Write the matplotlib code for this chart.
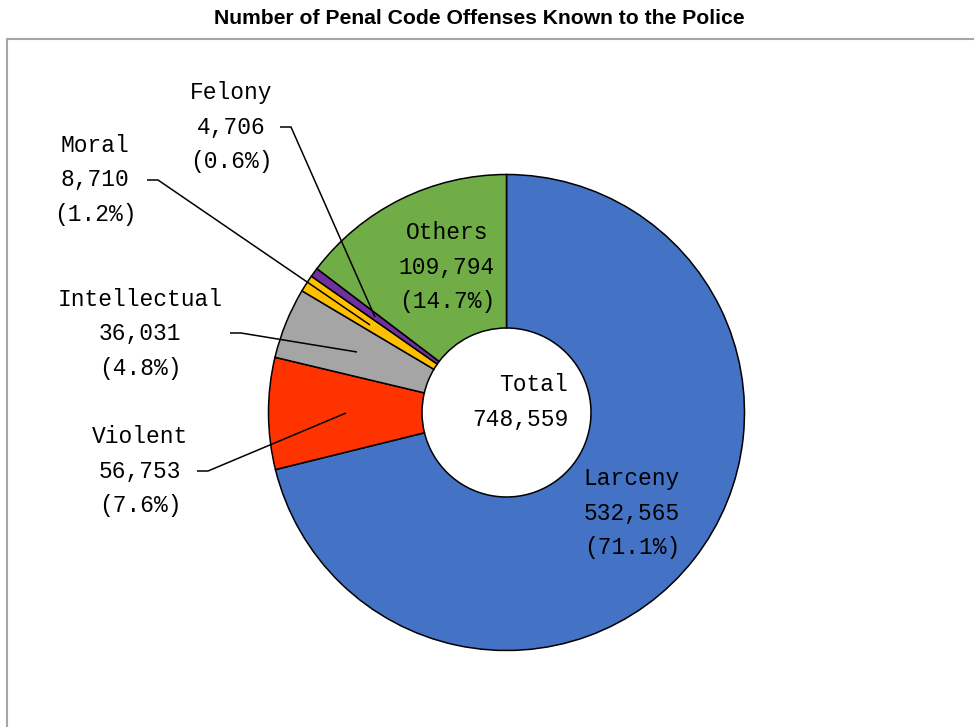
"""Donut chart: penal code offenses known to the police."""
import matplotlib
matplotlib.use("Agg")
import matplotlib.pyplot as plt
from matplotlib.patches import Rectangle

# data
categories = ["Larceny", "Violent", "Intellectual", "Moral", "Felony", "Others"]
counts = [532565, 56753, 36031, 8710, 4706, 109794]
colors = ["#4472C4", "#FF3300", "#A5A5A5", "#FFC000", "#7030A0", "#70AD47"]
total = sum(counts)

W, H = 974, 727
label_font = "Liberation Mono"


def py(y):
    # pixel row (from top) -> data y
    return H - y


fig = plt.figure(figsize=(W / 100, H / 100), dpi=100)
ax = fig.add_axes([0, 0, 1, 1])

# plot area frame
ax.add_patch(Rectangle((6.5, py(38.5) - 800), 1000, 800, fill=False,
                       edgecolor="#A6A6A6", linewidth=1.5))

# donut
ax.pie(counts, colors=colors, startangle=90, counterclock=False,
       center=(506.5, py(412.5)), radius=238, frame=True,
       wedgeprops=dict(width=238 * 0.645, edgecolor="black", linewidth=1.1))
ax.set_xlim(0, W)
ax.set_ylim(0, H)
ax.set_aspect("equal")
ax.axis("off")

# labels: (x center, y middle line) in pixels
label_pos = {
    "Larceny": (632, 513),
    "Violent": (140, 471),
    "Intellectual": (140, 334),
    "Moral": (95, 180),
    "Felony": (231, 127),
    "Others": (447, 267),
}
for name, val in zip(categories, counts):
    x, y = label_pos[name]
    ax.text(x, py(y), f"{name}\n{val:,}\n({val / total * 100:.1f}%)",
            ha="center", va="center", fontsize=16.5, family=label_font,
            linespacing=1.64, color="black")

ax.text(568, py(402), f"Total\n{total:,}", ha="right", va="center",
        fontsize=16.5, family=label_font, linespacing=1.64, color="black")

# leader lines
leaders = {
    "Felony": [(280, 127), (291, 127), (375, 317)],
    "Moral": [(147, 180), (158, 180), (370, 325)],
    "Intellectual": [(230, 333), (241, 333), (357, 352)],
    "Violent": [(197, 471), (208, 471), (346, 413)],
}
for pts in leaders.values():
    ax.plot([p[0] for p in pts], [py(p[1]) for p in pts], color="black",
            linewidth=1.1, solid_capstyle="butt")

fig.text(479.5 / W, 1 - 18.5 / H, "Number of Penal Code Offenses Known to the Police",
         ha="center", va="center", fontsize=15.2, fontweight="bold",
         family="Liberation Sans")

fig.savefig("out.png", dpi=100)
